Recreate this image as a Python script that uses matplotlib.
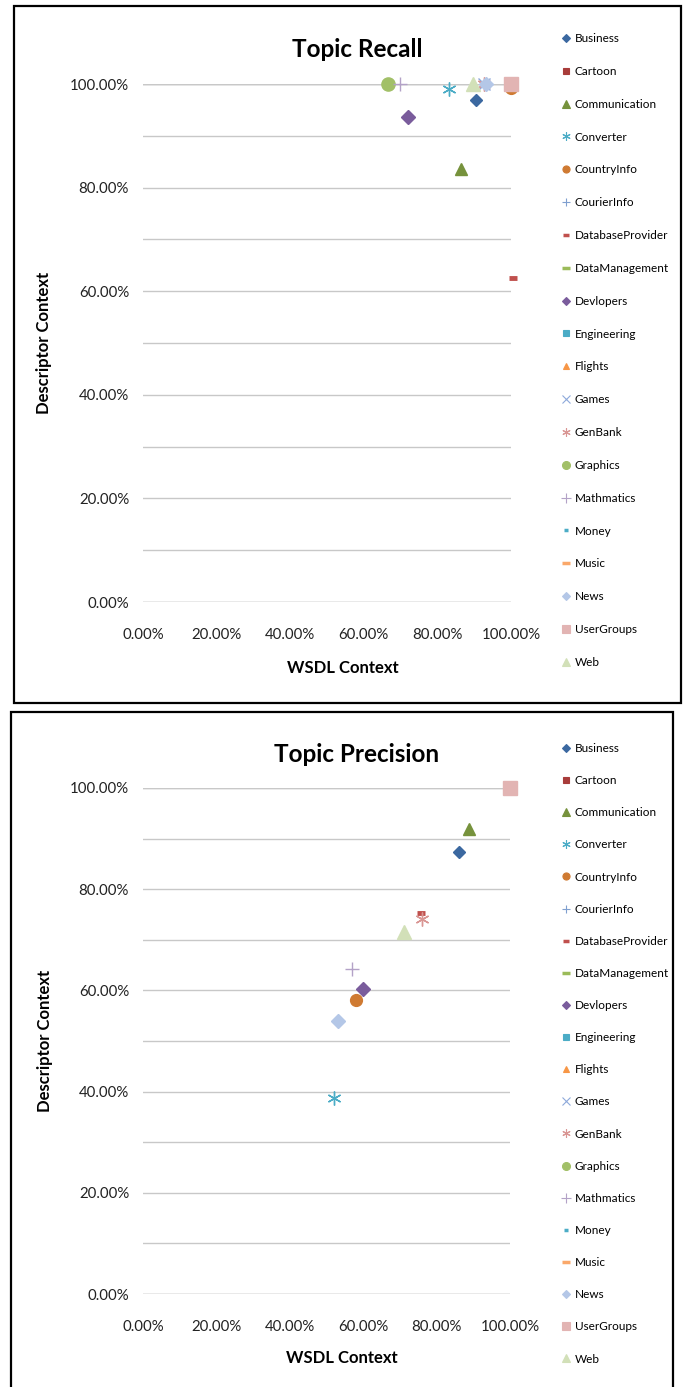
import matplotlib
matplotlib.use("Agg")
import matplotlib.pyplot as plt
from matplotlib.lines import Line2D
from matplotlib.patches import Rectangle
from matplotlib.ticker import FuncFormatter, MultipleLocator
import numpy as np

plt.rcParams['font.family'] = ['Lato', 'DejaVu Sans']

categories = ["Business", "Cartoon", "Communication", "Converter", "CountryInfo",
              "CourierInfo", "DatabaseProvider", "DataManagement", "Devlopers",
              "Engineering", "Flights", "Games", "GenBank", "Graphics", "Mathmatics",
              "Money", "Music", "News", "UserGroups", "Web"]

recall_x = [0.905, 1.0, 0.863, 0.832, 1.0, 1.0, 1.005, 1.0, 0.719, 1.0,
            1.0, 0.927, 0.927, 0.667, 0.698, 1.0, 1.0, 0.931, 1.0, 0.898]
recall_y = [0.969, 1.0, 0.836, 0.990, 0.992, 1.0, 0.625, 1.0, 0.936, 1.0,
            1.0, 1.0, 1.0, 1.0, 1.0, 1.0, 1.0, 1.0, 1.0, 1.0]

precision_x = [0.862, 1.0, 0.888, 0.520, 0.580, 1.0, 0.757, 1.0, 0.600, 1.0,
               1.0, 1.0, 0.761, 1.0, 0.569, 1.0, 1.0, 0.531, 1.0, 0.712]
precision_y = [0.874, 1.0, 0.918, 0.388, 0.581, 1.0, 0.752, 1.0, 0.603, 1.0,
               1.0, 1.0, 0.741, 1.0, 0.643, 1.0, 1.0, 0.540, 1.0, 0.715]

tick_values = [0.0, 0.2, 0.4, 0.6, 0.8, 1.0]

# marker styles: (marker, size, color, edge width)
styles = {
    "Business": ('D', 6.2, '#3B68A0', 1.0),
    "Cartoon": ('s', 8.0, '#A83C3A', 1.0),
    "Communication": ('^', 9.0, '#76923C', 1.0),
    "Converter": ((6, 2, 0), 10.0, '#4BACC6', 1.0),
    "CountryInfo": ('o', 8.5, '#CF7A32', 1.0),
    "CourierInfo": ('+', 8.0, '#7F9FCF', 1.0),
    "DatabaseProvider": ('_', 5.5, '#C0504D', 3.5),
    "DataManagement": ('_', 8.0, '#9BBB59', 2.5),
    "Devlopers": ('D', 6.8, '#7A5C9C', 1.0),
    "Engineering": ('s', 8.0, '#4BACC6', 1.0),
    "Flights": ('^', 8.0, '#F79646', 1.0),
    "Games": ('x', 8.0, '#8EA9DB', 1.0),
    "GenBank": ((6, 2, 0), 10.0, '#D99694', 1.0),
    "Graphics": ('o', 9.5, '#A2C068', 1.0),
    "Mathmatics": ('+', 10.0, '#B3A2C7', 1.0),
    "Money": ('_', 5.0, '#4BACC6', 3.0),
    "Music": ('_', 8.0, '#FAA86A', 2.5),
    "News": ('D', 6.8, '#B4C7E7', 1.0),
    "UserGroups": ('s', 9.5, '#E2B4B3', 1.0),
    "Web": ('^', 9.5, '#D2E0B8', 1.0),
}

W, H = 684, 1387
fig = plt.figure(figsize=(W / 100, H / 100), dpi=100)


def fx(px):
    return px / W


def fy(py):
    return 1 - py / H


# panel frames
fig.add_artist(Rectangle((fx(14), fy(703)), fx(681) - fx(14), fy(6) - fy(703),
                         transform=fig.transFigure, fill=False, lw=1.6,
                         edgecolor='black', zorder=0))
fig.add_artist(Rectangle((fx(11), fy(1400)), fx(673) - fx(11), fy(712) - fy(1400),
                         transform=fig.transFigure, fill=False, lw=1.6,
                         edgecolor='black', zorder=0))


def make_panel(ax_rect, xs, ys, title, leg_top_px, top_line_color, spacing):
    ax = fig.add_axes(ax_rect)
    ax.set_xlim(0, 1.0)
    ax.set_ylim(0, 1.0)
    for s in ax.spines.values():
        s.set_visible(False)
    ax.yaxis.set_major_locator(MultipleLocator(0.2))
    ax.yaxis.set_minor_locator(MultipleLocator(0.1))
    ax.set_xticks(tick_values)
    ax.grid(True, which='both', axis='y', color='#C8C8C8', lw=1.0)
    ax.set_axisbelow(True)
    ax.axhline(1.0, color=top_line_color, lw=1.0, zorder=0.5)
    ax.axhline(0.0, color='#BEBEBE', lw=1.0, zorder=0.5)
    fmt = FuncFormatter(lambda v, p: f"{v * 100:.2f}%")
    ax.xaxis.set_major_formatter(fmt)
    ax.yaxis.set_major_formatter(fmt)
    ax.tick_params(axis='both', which='both', length=0, labelsize=10.8,
                   colors='#222222')
    ax.tick_params(axis='x', pad=19)
    ax.tick_params(axis='y', pad=10)

    handles = []
    for i, name in enumerate(categories):
        m, ms, c, mew = styles[name]
        ax.plot([xs[i]], [ys[i]], linestyle='none', marker=m, markersize=ms,
                color=c, markeredgecolor=c, markeredgewidth=mew,
                clip_on=False, zorder=3)
        lm = ms * 0.6 if m not in ('+', 'x', '_') else ms * 0.7
        handles.append(Line2D([], [], linestyle='none', marker=m, markersize=lm,
                              color=c, markeredgecolor=c,
                              markeredgewidth=min(mew, 2.5) if m == '_' else 0.8,
                              label=name))

    ax.text(0.582, 1.066, title, transform=ax.transAxes, ha='center',
            va='center', fontsize=17.5, fontweight='bold')
    ax.set_xlabel("WSDL Context", fontsize=12, fontweight='bold')
    ax.set_ylabel("Descriptor Context", fontsize=12, fontweight='bold')
    ax.xaxis.set_label_coords(0.543, -0.127)
    ax.xaxis.label.set_verticalalignment('center')
    ax.yaxis.set_label_coords(-0.268, 0.5)
    ax.yaxis.label.set_verticalalignment('center')

    fig.legend(handles=handles, loc='upper left',
               bbox_to_anchor=(fx(561), fy(leg_top_px)),
               frameon=False, fontsize=8.5, handlelength=0.8,
               handletextpad=0.35, borderpad=0, borderaxespad=0,
               labelspacing=spacing)
    return ax


make_panel([fx(143), fy(602), (511 - 143) / W, (602 - 84) / H],
           recall_x, recall_y, "Topic Recall", 33, '#9A9A9A', 1.85)
make_panel([fx(143), fy(1294), (510 - 143) / W, (1294 - 788) / H],
           precision_x, precision_y, "Topic Precision", 743, '#C8C8C8', 1.79)

fig.savefig("out.png", dpi=100)
